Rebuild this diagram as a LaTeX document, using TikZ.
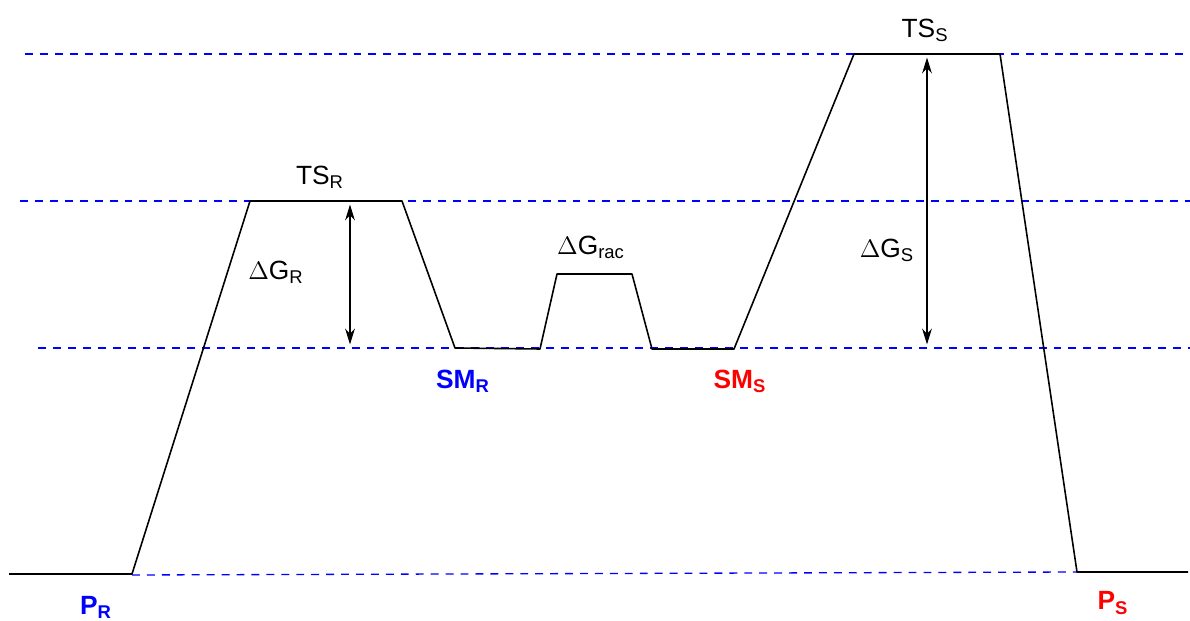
\documentclass[tikz,border=0pt]{standalone}
\usepackage{fontspec}
\setmainfont{Liberation Sans}
\usetikzlibrary{arrows.meta}

\begin{document}
\begin{tikzpicture}[
  x=0.02cm, y=-0.02cm, >={Stealth[length=9pt,width=5.5pt]},
  lvl/.style={blue, line width=0.75pt, dash pattern=on 4.5pt off 4pt},
  prof/.style={black, line width=0.9pt, line join=round},
  gap/.style={<->, line width=1.1pt, shorten >=2pt, shorten <=2pt},
  L/.style={font=\fontsize{15}{17}\selectfont, inner sep=1pt},
  sp/.style={font=\fontsize{15}{17}\selectfont\bfseries, text=#1, inner sep=1pt},
]
\useasboundingbox (0,0) rectangle (1190,621);

% points of the energy profile
\coordinate (pr0) at (9,574);
\coordinate (pr1) at (132,574);
\coordinate (tsr0) at (250,201);
\coordinate (tsr1) at (402,201);
\coordinate (smr0) at (455,348);
\coordinate (smr1) at (540,349);
\coordinate (rac0) at (557,274);
\coordinate (rac1) at (632,274);
\coordinate (sms0) at (652,349);
\coordinate (sms1) at (734,349);
\coordinate (tss0) at (854,54);
\coordinate (tss1) at (1000,54);
\coordinate (ps0) at (1077,572);
\coordinate (ps1) at (1188,572);

% reference levels
\draw[lvl] (25,54) -- (1190,54);
\draw[lvl] (20,201) -- (1190,201);
\draw[lvl] (38,348) -- (1190,348);
\draw[lvl] (pr1) ++(0,1) -- (ps0);

% profile
\draw[prof] (pr0) -- (pr1) -- (tsr0) -- (tsr1) -- (smr0) -- (smr1)
  -- (rac0) -- (rac1) -- (sms0) -- (sms1) -- (tss0) -- (tss1)
  -- (ps0) -- (ps1);

% barriers
\coordinate (gr0) at (350,201);
\coordinate (gr1) at (350,348);
\coordinate (gs0) at (927,54);
\coordinate (gs1) at (927,348);
\draw[gap] (gr0) -- (gr1);
\draw[gap] (gs0) -- (gs1);

% labels
\node[L] (tsR) at (320,177) {TS\textsubscript{R}};
\node[L] (dGR) at (276,272) {$\Delta$G\textsubscript{R}};
\node[L] (dGrac) at (591,247) {$\Delta$G\textsubscript{rac}};
\node[L] (tsS) at (925,30) {TS\textsubscript{S}};
\node[L] (dGS) at (887,250) {$\Delta$G\textsubscript{S}};
\node[sp=blue] (smR) at (463,381) {SM\textsubscript{R}};
\node[sp=red] (smS) at (740,381) {SM\textsubscript{S}};
\node[sp=blue] (pR) at (96,607) {P\textsubscript{R}};
\node[sp=red] (pS) at (1113,603) {P\textsubscript{S}};
\end{tikzpicture}
\end{document}
